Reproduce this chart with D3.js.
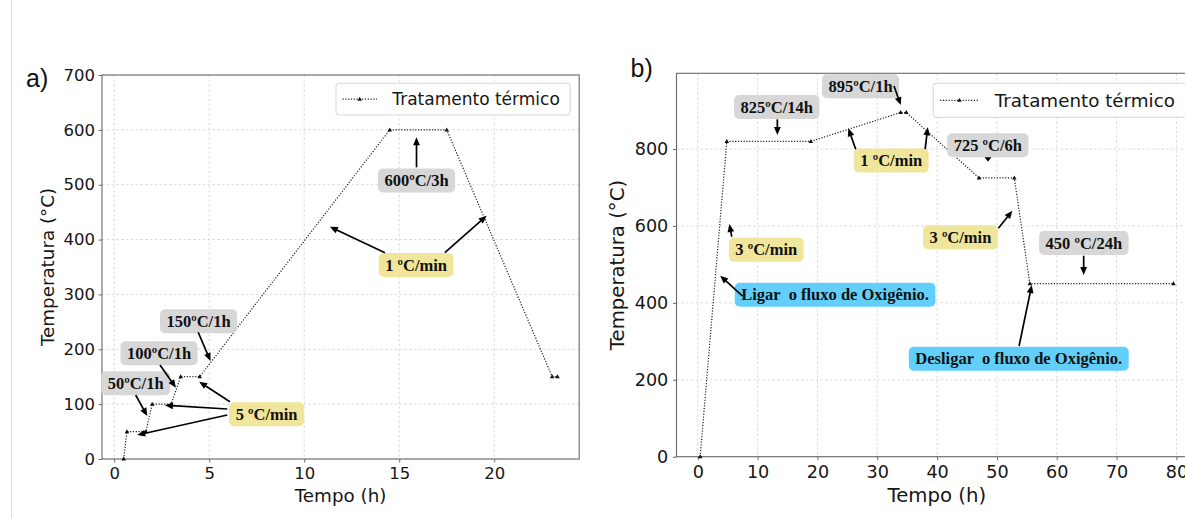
<!DOCTYPE html>
<html>
<head>
<meta charset="utf-8">
<script src="https://cdn.jsdelivr.net/npm/d3@7"></script>
<style>
  html, body { margin: 0; padding: 0; background: #fff; }
  svg { display: block; }
</style>
</head>
<body>
<svg id="fig" width="1185" height="518"></svg>
<script>
// ---- Panel a): heat treatment schedule, time (h) vs temperature (°C)
const timeA = [0.5, 0.67, 1.67, 2.0, 3.0, 3.5, 4.5, 14.5, 17.5, 23.05, 23.33];
const tempA = [0, 50, 50, 100, 100, 150, 150, 600, 600, 150, 150];
const xTicksA = [0, 5, 10, 15, 20];
const yTicksA = [0, 100, 200, 300, 400, 500, 600, 700];
const yLimA = [0, 700];

// ---- Panel b)
const timeB = [0.4, 4.85, 18.9, 33.9, 34.85, 47.0, 52.9, 55.5, 79.5];
const tempB = [0, 820, 820, 895, 895, 725, 725, 450, 450];
const xTicksB = [0, 10, 20, 30, 40, 50, 60, 70, 80];
const yTicksB = [0, 200, 400, 600, 800];
const yLimB = [0, 997];

const seriesName = "Tratamento térmico";
const xLabel = "Tempo (h)";
const yLabel = "Temperatura (°C)";

// Annotations: label position, then arrows as [tail, head] in data units
const notesA = [
  { text: "50ºC/1h",  tone: "gray",   at: [1.13, 138],   arrows: [[[1.13, 116.7], [1.74, 78.4]]] },
  { text: "100ºC/1h", tone: "gray",   at: [2.36, 192.7], arrows: [[[2.41, 171.3], [3.25, 130]]] },
  { text: "150ºC/1h", tone: "gray",   at: [4.44, 251],   arrows: [[[4.42, 231], [5.07, 178.6]]] },
  { text: "5 ºC/min", tone: "yellow", at: [8.02, 81.5],  arrows: [
      [[6.09, 104.5], [4.47, 141]],
      [[5.95, 91.1],  [2.67, 97.9]],
      [[5.95, 80.2],  [1.21, 43.7]]] },
  { text: "600ºC/3h", tone: "gray",   at: [15.91, 507.7], arrows: [[[15.91, 531.7], [15.91, 586.4]]] },
  { text: "1 ºC/min", tone: "yellow", at: [15.89, 353.6], arrows: [
      [[14.25, 376], [11.35, 423.5]],
      [[17.4, 376],  [19.6, 443.5]]] }
];

const notesB = [
  { text: "825ºC/14h", tone: "gray", at: [13.2, 909.3], arrows: [[[13.3, 877.3], [13.3, 836.5]]] },
  { text: "895ºC/1h",  tone: "gray", at: [27.2, 963.3], arrows: [[[32.8, 963.9], [33.93, 914.4]]] },
  { text: "1 ºC/min",  tone: "yellow", at: [32.34, 770], arrows: [
      [[26.4, 799.3], [25.17, 853.9]],
      [[38.0, 800],   [38.44, 856.5]]] },
  { text: "725 ºC/6h", tone: "gray", at: [48.47, 809.7], arrows: [[[48.5, 778.5], [48.5, 767]]] },
  { text: "3 ºC/min",  tone: "yellow", at: [11.45, 538], arrows: [[[5.68, 572], [5.28, 605]]] },
  { text: "3 ºC/min",  tone: "yellow", at: [43.9, 570.7], arrows: [[[50.24, 593.9], [52.58, 639.6]]] },
  { text: "450 ºC/24h", tone: "gray", at: [64.53, 555.6], arrows: [[[64.5, 522.6], [64.5, 472.4]]] },
  { text: "Ligar  o fluxo de Oxigênio.", tone: "blue", at: [22.95, 421], arrows: [[[7.49, 417.8], [3.74, 470.6]]] },
  { text: "Desligar  o fluxo de Oxigênio.", tone: "blue", at: [53.65, 254.8], arrows: [[[53.7, 287.8], [55.82, 446.4]]] }
];

const toneFill = { gray: "#d7d7d7", yellow: "#efe59b", blue: "#62cffb" };

const svg = d3.select("#fig");
svg.append("rect").attr("width", 1185).attr("height", 518).attr("fill", "#fff");
svg.append("line").attr("x1", 11.5).attr("x2", 11.5).attr("y1", 0).attr("y2", 518)
  .attr("stroke", "#dcdcdc").attr("stroke-width", 1);

const spineColor = "#6a6a6a";
const textColor = "#161616";

// matplotlib-style 5% autoscale margin
function padded(ext, f = 0.05) {
  const r = ext[1] - ext[0];
  return [ext[0] - r * f, ext[1] + r * f];
}

function trianglePath(s) {
  return `M0,${-s} L${s * 0.95},${s * 0.65} L${-s * 0.95},${s * 0.65} Z`;
}

function drawPanel(cfg) {
  const g = svg.append("g");
  const x = d3.scaleLinear().domain(padded(d3.extent(cfg.t))).range([cfg.left, cfg.right]);
  const y = d3.scaleLinear().domain(cfg.yLim).range([cfg.bottom, cfg.top]);

  // grid
  const grid = g.append("g").attr("stroke", "#d2d2d2").attr("stroke-width", 0.8)
    .attr("stroke-dasharray", "2.6,2.2");
  grid.selectAll("line.gx").data(cfg.xTicks).join("line").attr("class", "gx")
    .attr("x1", d => x(d)).attr("x2", d => x(d)).attr("y1", cfg.top).attr("y2", cfg.bottom);
  grid.selectAll("line.gy").data(cfg.yTicks).join("line").attr("class", "gy")
    .attr("y1", d => y(d)).attr("y2", d => y(d)).attr("x1", cfg.left).attr("x2", cfg.right);

  // axes
  const axX = g.append("g").attr("transform", `translate(0,${cfg.bottom})`)
    .call(d3.axisBottom(x).tickValues(cfg.xTicks).tickSize(3.5).tickSizeOuter(0).tickPadding(cfg.xPad).tickFormat(d3.format("d")));
  const axY = g.append("g").attr("transform", `translate(${cfg.left},0)`)
    .call(d3.axisLeft(y).tickValues(cfg.yTicks).tickSize(3.5).tickSizeOuter(0).tickPadding(cfg.yPad).tickFormat(d3.format("d")));
  [axX, axY].forEach(a => {
    a.select(".domain").remove();
    a.selectAll(".tick line").attr("stroke", spineColor).attr("stroke-width", 1);
    a.selectAll(".tick text").attr("fill", textColor)
      .attr("font-family", "DejaVu Sans").attr("font-size", cfg.tickSize);
  });

  // frame
  g.append("rect").attr("x", cfg.left).attr("y", cfg.top)
    .attr("width", cfg.right - cfg.left).attr("height", cfg.bottom - cfg.top)
    .attr("fill", "none").attr("stroke", spineColor).attr("stroke-width", 1.1);

  // axis titles
  g.append("text").attr("x", (cfg.left + cfg.right) / 2).attr("y", cfg.xLabelY)
    .attr("text-anchor", "middle").attr("font-family", "DejaVu Sans")
    .attr("font-size", cfg.labelSize).attr("fill", textColor).text(xLabel);
  g.append("text")
    .attr("transform", `translate(${cfg.yLabelX},${(cfg.top + cfg.bottom) / 2}) rotate(-90)`)
    .attr("text-anchor", "middle").attr("font-family", "DejaVu Sans")
    .attr("font-size", cfg.labelSize).attr("fill", textColor).text(yLabel);

  // panel tag
  g.append("text").attr("x", cfg.tagX).attr("y", cfg.tagY)
    .attr("font-family", "Liberation Sans").attr("font-size", 25).attr("fill", "#111").text(cfg.tag);

  // series
  const pts = cfg.t.map((d, i) => [d, cfg.v[i]]);
  g.append("path").datum(pts)
    .attr("d", d3.line().x(d => x(d[0])).y(d => y(d[1])))
    .attr("fill", "none").attr("stroke", "#222").attr("stroke-width", 1.2)
    .attr("stroke-dasharray", "1.2,1.6");
  g.selectAll("path.mk").data(pts).join("path").attr("class", "mk")
    .attr("transform", d => `translate(${x(d[0])},${y(d[1])})`)
    .attr("d", trianglePath(2.4)).attr("fill", "#111");

  // legend
  const L = cfg.legend;
  const lg = g.append("g");
  lg.append("rect").attr("x", L.x).attr("y", L.y).attr("width", L.w).attr("height", L.h)
    .attr("rx", 3).attr("fill", "#fff").attr("fill-opacity", 0.85)
    .attr("stroke", "#d6d6d6").attr("stroke-width", 1);
  const ly = L.y + L.h / 2;
  lg.append("line").attr("x1", L.x + L.s0).attr("x2", L.x + L.s1).attr("y1", ly).attr("y2", ly)
    .attr("stroke", "#222").attr("stroke-width", 1.2).attr("stroke-dasharray", "1.2,1.6");
  lg.append("path").attr("transform", `translate(${L.x + (L.s0 + L.s1) / 2},${ly})`)
    .attr("d", trianglePath(2.4)).attr("fill", "#111");
  lg.append("text").attr("x", L.x + L.tx).attr("y", ly).attr("dy", "0.36em")
    .attr("font-family", "DejaVu Sans").attr("font-size", L.size).attr("fill", textColor)
    .text(seriesName);

  // annotations
  const ng = g.append("g");
  cfg.notes.forEach(n => {
    const cx = x(n.at[0]), cy = y(n.at[1]);
    const box = ng.append("rect").attr("rx", 5).attr("fill", toneFill[n.tone]);
    const t = ng.append("text").attr("x", cx).attr("y", cy).attr("dy", "0.34em")
      .attr("text-anchor", "middle").attr("font-family", "Liberation Serif")
      .attr("font-weight", "bold").attr("font-size", 16.5).attr("fill", "#111")
      .style("white-space", "pre").text(n.text);
    const w = t.node().getComputedTextLength() + 13, h = 24;
    box.attr("x", cx - w / 2).attr("y", cy - h / 2).attr("width", w).attr("height", h);
    n.arrows.forEach(([tail, head]) => {
      const x0 = x(tail[0]), y0 = y(tail[1]), x1 = x(head[0]), y1 = y(head[1]);
      const dx = x1 - x0, dy = y1 - y0, len = Math.hypot(dx, dy);
      const ux = dx / len, uy = dy / len;
      const hl = Math.min(8, len), hw = 3.4;
      const bx = x1 - ux * hl, by = y1 - uy * hl;
      if (len > hl) {
        ng.append("line").attr("x1", x0).attr("y1", y0)
          .attr("x2", bx + ux * 1).attr("y2", by + uy * 1)
          .attr("stroke", "#000").attr("stroke-width", 1.7);
      }
      ng.append("path")
        .attr("d", `M${x1},${y1} L${bx - uy * hw},${by + ux * hw} L${bx + uy * hw},${by - ux * hw} Z`)
        .attr("fill", "#000");
    });
  });
}

drawPanel({
  t: timeA, v: tempA, xTicks: xTicksA, yTicks: yTicksA, yLim: yLimA,
  left: 102, right: 579.2, top: 75, bottom: 459,
  tickSize: 16.5, labelSize: 18.3, xPad: 5.1, yPad: 3.5,
  xLabelY: 501.5, yLabelX: 54,
  tag: "a)", tagX: 26, tagY: 86.5,
  legend: { x: 336, y: 83.3, w: 234.2, h: 31.7, s0: 6.5, s1: 41, tx: 56.3, size: 17 },
  notes: notesA
});

drawPanel({
  t: timeB, v: tempB, xTicks: xTicksB, yTicks: yTicksB, yLim: yLimB,
  left: 676.5, right: 1197.1, top: 73.3, bottom: 456.7,
  tickSize: 17.6, labelSize: 19.7, xPad: 5, yPad: 4.7,
  xLabelY: 501.5, yLabelX: 624,
  tag: "b)", tagX: 630.5, tagY: 76.7,
  legend: { x: 933.2, y: 83.3, w: 258, h: 34, s0: 7, s1: 45.5, tx: 61.6, size: 18.3 },
  notes: notesB
});
</script>
</body>
</html>
